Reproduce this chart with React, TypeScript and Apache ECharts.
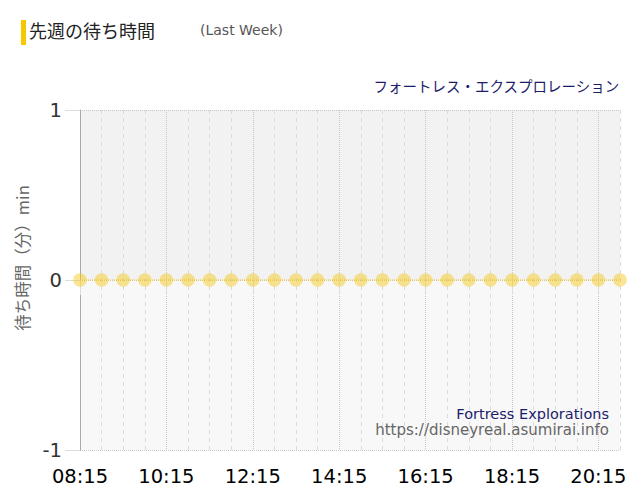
import { useEffect, useRef } from 'react';
import * as echarts from 'echarts';

// 30分ごとの時刻（08:15〜20:45）
const times = [
  '08:15', '08:45', '09:15', '09:45', '10:15', '10:45', '11:15', '11:45',
  '12:15', '12:45', '13:15', '13:45', '14:15', '14:45', '15:15', '15:45',
  '16:15', '16:45', '17:15', '17:45', '18:15', '18:45', '19:15', '19:45',
  '20:15', '20:45',
];
// 待ち時間（分）：先週は全時刻 0
const waits = [
  0, 0, 0, 0, 0, 0, 0, 0, 0, 0, 0, 0, 0,
  0, 0, 0, 0, 0, 0, 0, 0, 0, 0, 0, 0, 0,
];
const yTicks = { min: -1, max: 1, interval: 1 };

const titleText = '先週の待ち時間';
const titleSub = '(Last Week)';
const attractionJa = 'フォートレス・エクスプロレーション';
const attractionEn = 'Fortress Explorations';
const siteUrl = 'https://disneyreal.asumirai.info';
const yName = '待ち時間（分）min';

const LATIN = '"DejaVu Sans", Verdana, sans-serif';
const CJK = '"Noto Sans CJK JP", "DejaVu Sans", sans-serif';

export default function App() {
  const ref = useRef<HTMLDivElement>(null);

  useEffect(() => {
    document.body.style.margin = '0';
    if (!ref.current) return;
    const chart = echarts.init(ref.current, undefined, { renderer: 'svg' });

    chart.setOption({
      animation: false,
      backgroundColor: '#fff',
      grid: { left: 80, right: 20, top: 110, bottom: 50 },
      graphic: [
        { type: 'rect', left: 21, top: 20, z: 100, shape: { width: 5, height: 25 }, style: { fill: '#f5c800' } },
        {
          type: 'text', left: 29, top: 21, z: 100,
          style: { text: titleText, font: `18px ${CJK}`, fill: '#222' },
        },
        {
          type: 'text', left: 200, top: 23, z: 100,
          style: { text: titleSub, font: `14px ${LATIN}`, fill: '#555' },
        },
        {
          type: 'text', right: 20, top: 78, z: 100,
          style: { text: attractionJa, font: `14.5px ${CJK}`, fill: '#1c1c6b' },
        },
        {
          type: 'text', right: 31, top: 406, z: 100,
          style: { text: attractionEn, font: `14.5px ${LATIN}`, fill: '#1c1c6b' },
        },
        {
          type: 'text', right: 31, top: 422, z: 100,
          style: { text: siteUrl, font: `15px ${LATIN}`, fill: '#666' },
        },
        {
          type: 'text', x: 22, y: 258, rotation: Math.PI / 2, z: 100,
          style: {
            text: yName, font: `16.5px ${CJK}`, fill: '#666',
            align: 'center', verticalAlign: 'middle',
          },
        },
      ],
      xAxis: [
        {
          type: 'category',
          data: times,
          boundaryGap: false,
          axisLine: { show: false },
          axisTick: { show: true, interval: 3, length: 15, lineStyle: { color: '#ddd' } },
          axisLabel: {
            interval: 3, margin: 16, fontSize: 19.5, color: '#000', fontFamily: LATIN,
          },
          splitLine: { show: true, interval: 3, lineStyle: { color: '#c8c8c8', type: 'dotted' } },
        },
        {
          type: 'category',
          data: times,
          boundaryGap: false,
          position: 'bottom',
          axisLine: { show: false },
          axisTick: { show: false },
          axisLabel: { show: false },
          splitLine: {
            show: true,
            interval: (i: number) => i % 4 !== 0,
            lineStyle: { color: '#dcdcdc', type: [4, 4] },
          },
        },
      ],
      yAxis: {
        type: 'value',
        min: yTicks.min,
        max: yTicks.max,
        interval: yTicks.interval,
        axisLine: { show: true, lineStyle: { color: '#aaa' } },
        axisTick: { show: true, length: 15, lineStyle: { color: '#ddd' } },
        axisLabel: { margin: 18, fontSize: 19.5, color: '#333', fontFamily: LATIN },
        splitLine: { show: true, lineStyle: { color: '#c8c8c8', type: 'dotted' } },
        splitArea: { show: true, areaStyle: { color: ['#f8f8f8', '#f2f2f2'] } },
      },
      series: [
        {
          type: 'line',
          data: waits,
          symbol: 'circle',
          symbolSize: 13.5,
          lineStyle: { color: '#efc12a', width: 1, type: 'dotted' },
          itemStyle: { color: 'rgba(245, 200, 30, 0.48)' },
          z: 5,
        },
      ],
    });

    return () => chart.dispose();
  }, []);

  return <div ref={ref} style={{ width: 640, height: 500 }} />;
}
